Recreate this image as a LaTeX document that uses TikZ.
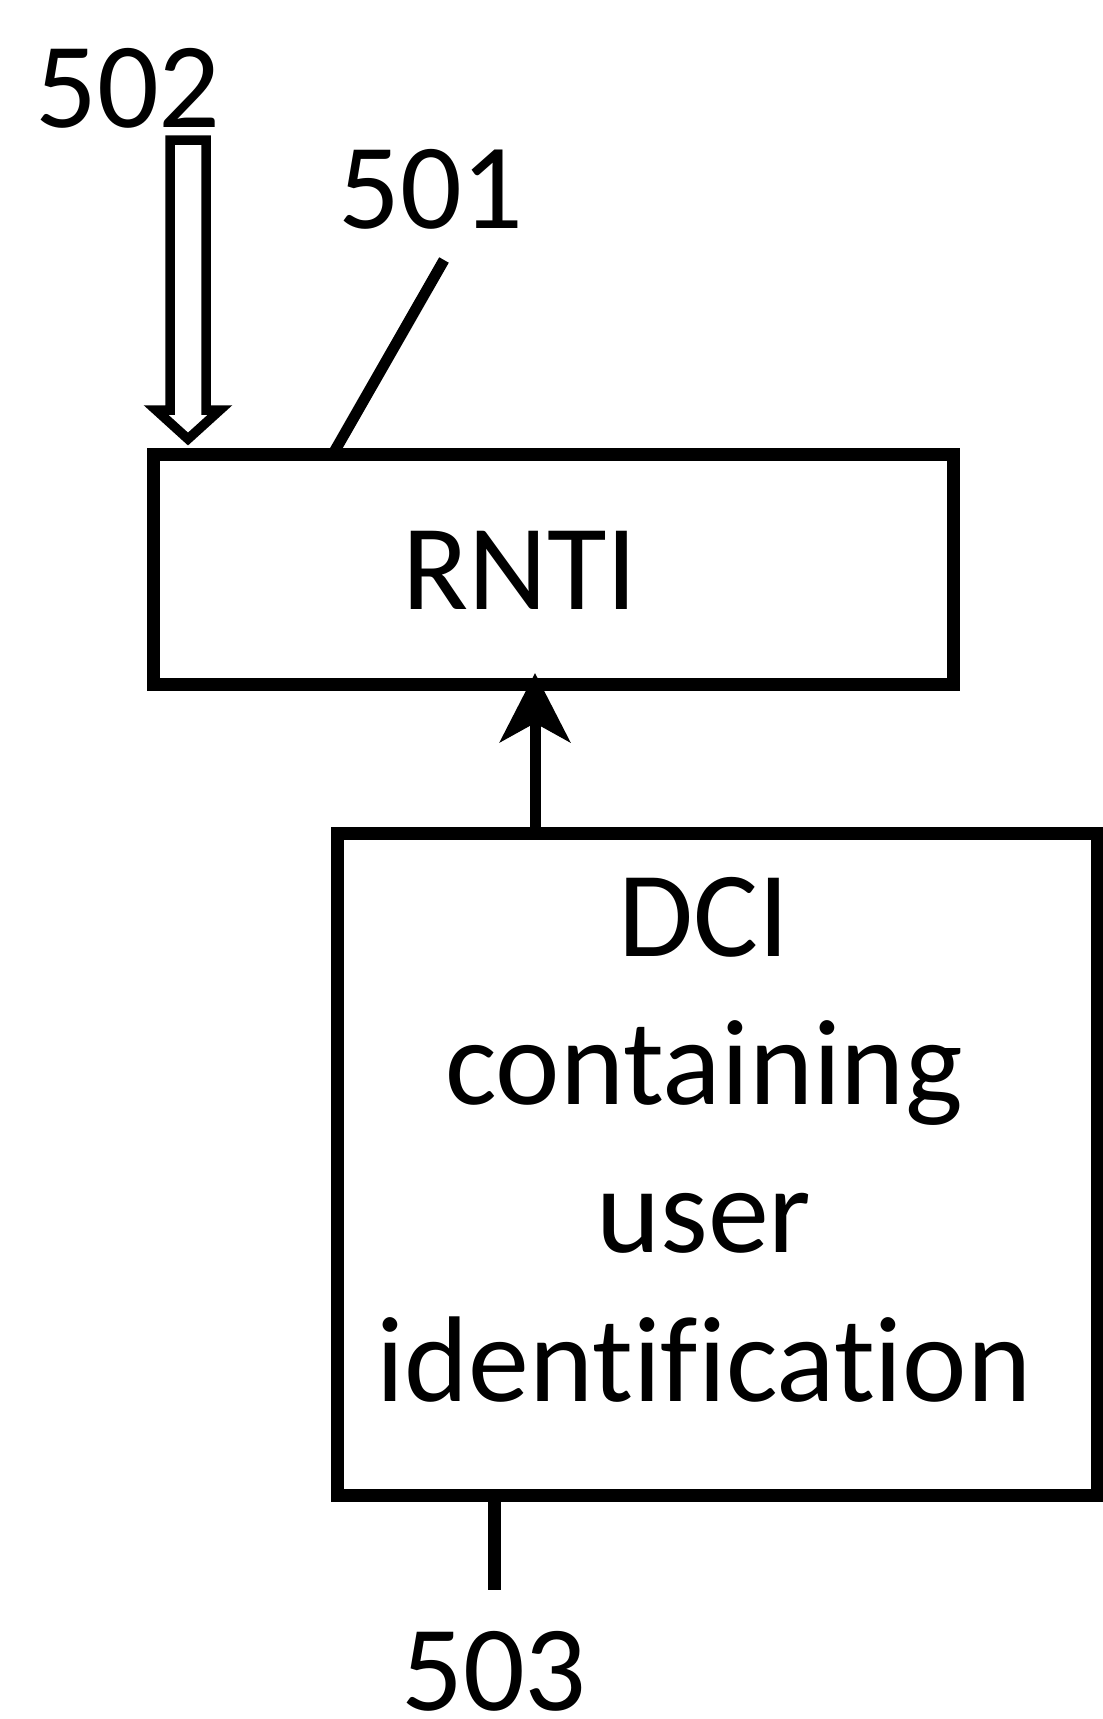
\documentclass[tikz,border=0pt]{standalone}
\usepackage{fontspec}
\setmainfont{Carlito}[Ligatures=NoCommon]
\usetikzlibrary{arrows.meta}
\begin{document}
\begin{tikzpicture}[x=1pt,y=-1pt,
  boxstyle/.style={draw=black,line width=13pt,rectangle,inner sep=0pt,outer sep=0pt,line join=miter},
  lbl/.style={font=\fontsize{122pt}{148.3pt}\selectfont,anchor=base,inner sep=0pt,outer sep=0pt},
  leader/.style={draw=black,line width=11pt},
  conn/.style={draw=black,line width=11pt,-{Stealth[length=69pt,width=70pt,inset=19pt]}},
  hollow/.style={draw=black,line width=9.5pt,line join=miter,fill=white}
]
\useasboundingbox (0,0) rectangle (1103,1719);
\fill[white] (0,0) rectangle (1103,1719);

% boxes
\node[boxstyle,minimum width=800pt,minimum height=230pt] (rnti) at (553,569) {};
\node[boxstyle,minimum width=760pt,minimum height=662pt] (dci) at (717,1164) {};

% texts (base anchor = baseline of the last line)
\node[lbl] (rntitext) at (520,609) {RNTI};
\node[lbl,align=center] (dcitext) at (704,1401) {DCI\\containing\\user\\identification};

\node[lbl] (l502) at (128,127) {502};
\node[lbl] (l501) at (431,228) {501};
\node[lbl] (l503) at (494,1710) {503};

% leader ends
\coordinate (c501) at (444,260);
\coordinate (c503) at (494,1590);

\draw[leader] (c501) -- ([xshift=-220pt]rnti.north);
\draw[leader,line width=13pt] ([xshift=-223pt]dci.south) -- (c503);

% arrow from DCI to RNTI
\draw[conn] ([xshift=-182pt]dci.north) -- ([xshift=-18pt,yshift=11pt]rnti.south);

% hollow arrow 502
\draw[hollow] (170,140) -- (206,140) -- (206,410) -- (220,410) -- (188,439) -- (156,410) -- (170,410) -- cycle;
\end{tikzpicture}
\end{document}
